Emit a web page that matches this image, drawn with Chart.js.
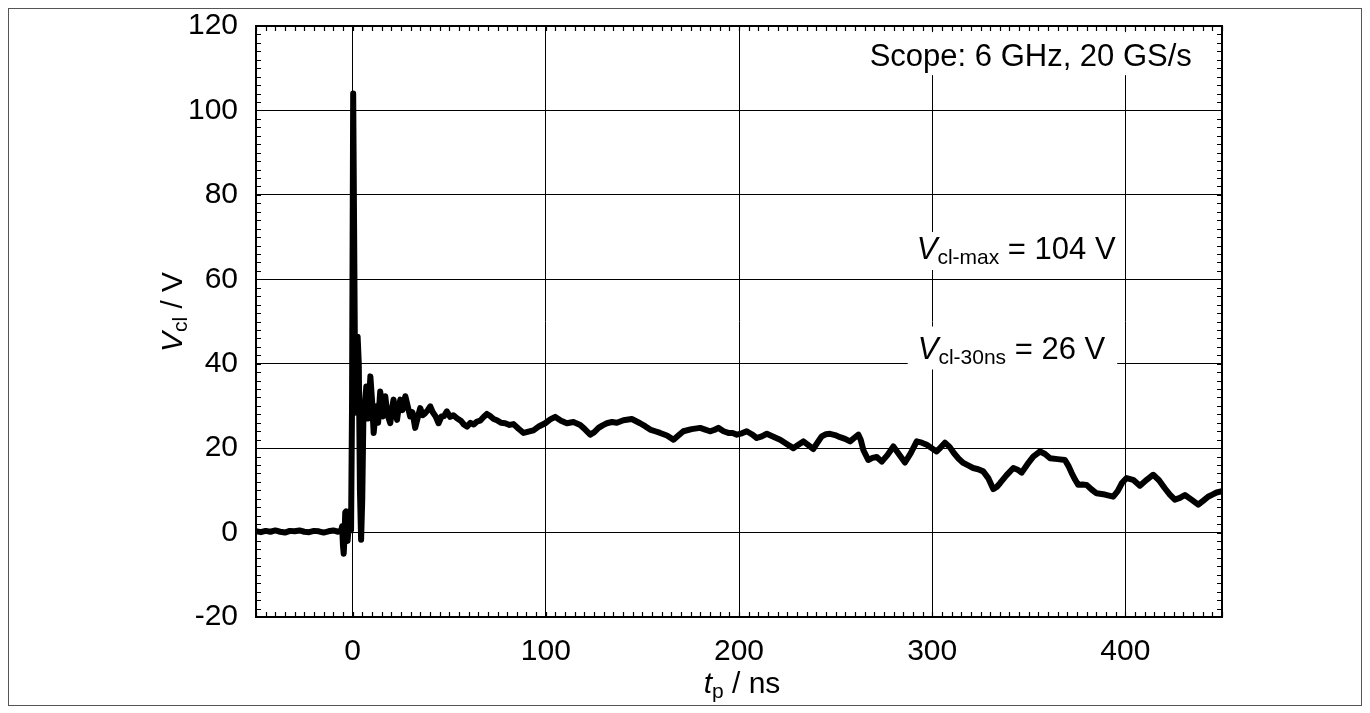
<!DOCTYPE html>
<html><head><meta charset="utf-8">
<script src="https://cdn.jsdelivr.net/npm/chart.js@4/dist/chart.umd.min.js"></script>
<style>html,body{margin:0;padding:0;background:#fff;} #wrap{width:1370px;height:713px;}</style>
</head><body><div id="wrap"><canvas id="c" width="1370" height="713"></canvas></div>
<script>
// ---- data ----
const timeNs = [
-50,-47.5,-45,-42.5,-40,-37.5,-35,-32.5,-30,-27.5,-25,-22.5,-20,-17.5,-15,-12.5,-10,-7.5,-6,
-5.4,-5.0,-4.6,-4.2,-3.8,-3.4,-3.0,-2.6,-2.2,-1.5,-0.8,-0.3,0.3,0.8,1.4,2.0,2.6,3.2,3.8,4.4,5.0,5.6,6.2,
7.1,8.0,9.2,10.1,10.9,11.6,12.3,13.2,14.3,15.0,15.7,16.9,18.0,19.5,20.3,21.2,22.1,23.0,24.0,24.7,25.8,
27.3,28.5,29.8,31.0,32.4,33.6,35.0,36.3,37.6,38.9,40.2,41.5,43.0,44.5,46.0,47.3,48.8,50.5,52.2,54.0,
56.0,57.6,59.2,61.0,62.7,64.4,66.0,67.8,69.5,71.2,73.0,74.7,76.8,79.0,81.2,83.3,85.9,88.5,91.0,93.6,
96.6,99.7,102.3,104.9,107.9,110.9,114.3,117.8,120.4,123.0,125.1,127.3,129.4,131.6,134.2,136.8,140.2,
144.5,148.8,151.4,154.0,156.6,159.2,162.7,166.1,168.6,171.2,175.5,179.9,182.5,185.0,187.2,189.3,192.0,
194.5,196.7,198.9,201.5,204.0,206.6,209.2,211.8,214.4,217.8,221.3,224.7,228.1,230.7,233.3,235.9,238.5,
240.6,242.8,245.0,247.1,249.7,252.3,254.9,257.5,259.6,261.8,263.0,264.4,266.9,269.1,271.3,273.9,276.9,
279.9,282.9,285.9,288.9,292.0,294.6,297.2,299.7,302.3,304.4,306.6,309.0,311.3,313.7,316.1,318.6,321.2,
323.8,326.4,329.0,331.6,333.4,335.1,338.5,342.0,344.2,346.3,349.3,352.3,355.8,358.4,361.0,364.9,368.7,
370.5,372.2,374.0,375.6,377.7,379.9,382.5,385.1,389.4,393.7,396.0,398.3,400.6,404.0,407.5,411.0,414.4,
417.4,420.4,423.0,425.6,428.2,430.8,434.2,437.7,440.2,442.8,445.0,447.2,450.0
];
const voltV = [
0.3,0.1,0.4,0.2,0.5,0.2,0.0,0.4,0.3,0.5,0.2,0.1,0.4,0.3,0.0,0.3,0.5,0.2,0.4,
1.5,-3.0,-5.0,-1.0,4.8,5.0,1.0,-2.0,0.5,0.8,0.6,30,104,70,28.4,30,46.4,40,10,-1.7,8,28,30,
34.6,27,37,31,23.6,27,29.9,26,33.4,30.5,27.5,32.3,28,25.9,29,31.5,28.5,26.7,30,31.5,29,
32.3,30,27.5,28.5,24.8,27,29.5,27.8,28.3,29,29.9,28.5,27.5,25.9,27.5,27.6,28.7,27.4,27.8,27.1,
26.5,25.6,25.1,26.0,25.6,26.3,26.5,27.4,28.1,27.6,26.9,26.6,26.0,25.9,25.5,25.7,24.6,23.6,23.9,24.2,
25.2,25.9,26.8,27.4,26.5,25.9,26.2,25.5,24.4,23.2,23.8,24.8,25.4,25.9,26.2,26.0,26.6,
26.9,25.9,25.2,24.4,24.0,23.6,23.0,22.0,23.0,24.0,24.5,24.8,24.4,24.0,24.3,24.8,24.0,
23.6,23.6,23.2,23.5,24.0,23.3,22.4,22.8,23.4,22.7,22.0,21.0,20.0,20.8,21.6,20.7,19.8,
21.3,22.8,23.3,23.4,23.1,22.6,22.2,21.6,22.4,23.2,22.0,19.5,17.2,17.7,17.9,16.8,18.4,
20.4,18.5,16.6,18.8,21.6,21.3,20.8,20.0,19.2,20.2,21.3,20.3,18.8,17.5,16.5,15.9,15.3,
15.0,14.5,12.9,10.3,10.8,11.7,13.6,15.3,14.9,14.2,16.2,18.0,19.2,18.6,17.6,17.4,17.2,
15.8,14.1,12.5,11.3,11.4,11.3,10.2,9.3,9.0,8.5,9.8,11.8,12.9,12.5,11.1,12.5,13.7,
12.4,10.5,9.0,7.8,8.2,8.9,7.8,6.6,7.5,8.5,9.0,9.5,9.8
];
const xTickValues = [0, 100, 200, 300, 400];
const yTickValues = [-20, 0, 20, 40, 60, 80, 100, 120];
const xRange = [-50, 450];
const yRange = [-20, 120];

const FONT = '"Liberation Sans", Arial, Helvetica, sans-serif';
const MAIN = 30, SUB = 21, NOTE = 31, NOTESUB = 21;

const notes = [
  {parts:[{t:'Scope: 6 GHz, 20 GS/s'}], x:434.4, y:110.5, align:'right', pad:[8,6,34,9]},
  {parts:[{t:'V',it:1},{t:'cl-max',sub:1},{t:' = 104 V'}], x:292.0, y:64.8, align:'left', pad:[12,6,27,11]},
  {parts:[{t:'V',it:1},{t:'cl-30ns',sub:1},{t:' = 26 V'}], x:292.5, y:41.0, align:'left', pad:[10,12,33,10]}
];

function measureRich(ctx, parts, size, subSize) {
  let total = 0;
  const items = parts.map(p => {
    const s = p.sub ? subSize : size;
    const font = (p.it ? 'italic ' : '') + s + 'px ' + FONT;
    ctx.font = font;
    const w = ctx.measureText(p.t).width;
    total += w;
    return {p, font, w};
  });
  return {items, total};
}
function drawRich(ctx, m, x, y, subShift) {
  ctx.textAlign = 'left'; ctx.textBaseline = 'alphabetic'; ctx.fillStyle = '#000';
  let cx = x;
  m.items.forEach(it => {
    ctx.font = it.font;
    ctx.fillText(it.p.t, cx, y + (it.p.sub ? subShift : 0));
    cx += it.w;
  });
}

const decor = {
  id: 'decor',
  beforeDatasetsDraw(chart) {
    const ctx = chart.ctx, xs = chart.scales.x, ys = chart.scales.y;
    ctx.save();
    notes.forEach(n => {
      const m = measureRich(ctx, n.parts, NOTE, NOTESUB);
      const px = xs.getPixelForValue(n.x), py = ys.getPixelForValue(n.y);
      const left = n.align === 'right' ? px - m.total : px;
      ctx.fillStyle = '#fff';
      ctx.fillRect(left - n.pad[0], py - n.pad[2], m.total + n.pad[0] + n.pad[1], n.pad[2] + n.pad[3]);
      drawRich(ctx, m, left, py, 5);
    });
    ctx.restore();
  },
  afterDraw(chart) {
    const ctx = chart.ctx, xs = chart.scales.x, ys = chart.scales.y;
    const {left, right, top, bottom} = chart.chartArea;
    ctx.save();
    // minor ticks, inward on all four sides
    ctx.strokeStyle = '#000'; ctx.lineWidth = 1.2;
    ctx.beginPath();
    for (let v = xRange[0]; v <= xRange[1]; v += 5) {
      const p = Math.round(xs.getPixelForValue(v)) + 0.5;
      ctx.moveTo(p, bottom); ctx.lineTo(p, bottom - 5);
      ctx.moveTo(p, top); ctx.lineTo(p, top + 5);
    }
    for (let v = yRange[0]; v <= yRange[1]; v += 2) {
      const p = Math.round(ys.getPixelForValue(v)) + 0.5;
      ctx.moveTo(left, p); ctx.lineTo(left + 5, p);
      ctx.moveTo(right, p); ctx.lineTo(right - 5, p);
    }
    ctx.stroke();
    // plot frame
    ctx.lineWidth = 2;
    ctx.strokeRect(left, top, right - left, bottom - top);
    // outer figure frame
    ctx.lineWidth = 1; ctx.strokeStyle = '#555';
    ctx.strokeRect(8.5, 8.5, 1353, 697);
    // x title
    const mx = measureRich(ctx, [{t:'t',it:1},{t:'p',sub:1},{t:' / ns'}], MAIN, SUB);
    drawRich(ctx, mx, (left + right) / 2 - mx.total / 2 + 3, 693, 5);
    // y title
    const my = measureRich(ctx, [{t:'V',it:1},{t:'cl',sub:1},{t:' / V'}], MAIN, SUB);
    ctx.translate(182, 312);
    ctx.rotate(-Math.PI / 2);
    drawRich(ctx, my, -my.total / 2, 0, 5);
    ctx.restore();
  }
};

new Chart(document.getElementById('c'), {
  type: 'line',
  data: {
    datasets: [{
      data: timeNs.map((t, i) => ({x: t, y: voltV[i]})),
      borderColor: '#000', borderWidth: 6, pointRadius: 0, tension: 0,
      borderJoinStyle: 'round', borderCapStyle: 'round', fill: false
    }]
  },
  options: {
    responsive: false, animation: false, parsing: false,
    layout: {padding: {left: 0, top: 26, right: 148, bottom: 0}},
    plugins: {legend: {display: false}, tooltip: {enabled: false}},
    scales: {
      x: {
        type: 'linear', min: xRange[0], max: xRange[1],
        afterBuildTicks: s => { s.ticks = xTickValues.map(v => ({value: v})); },
        afterFit: s => { s.height = 96; s.paddingLeft = 0; s.paddingRight = 0; },
        grid: {color: '#000', lineWidth: 1, drawTicks: false},
        border: {display: false},
        ticks: {font: {family: FONT, size: MAIN}, color: '#000', padding: 17, maxRotation: 0, autoSkip: false}
      },
      y: {
        type: 'linear', min: yRange[0], max: yRange[1],
        afterBuildTicks: s => { s.ticks = yTickValues.map(v => ({value: v})); },
        afterFit: s => { s.width = 256; s.paddingTop = 0; s.paddingBottom = 0; },
        grid: {color: '#000', lineWidth: 1, drawTicks: false},
        border: {display: false},
        ticks: {font: {family: FONT, size: MAIN}, color: '#000', padding: 18}
      }
    }
  },
  plugins: [decor]
});
</script>
</body></html>
